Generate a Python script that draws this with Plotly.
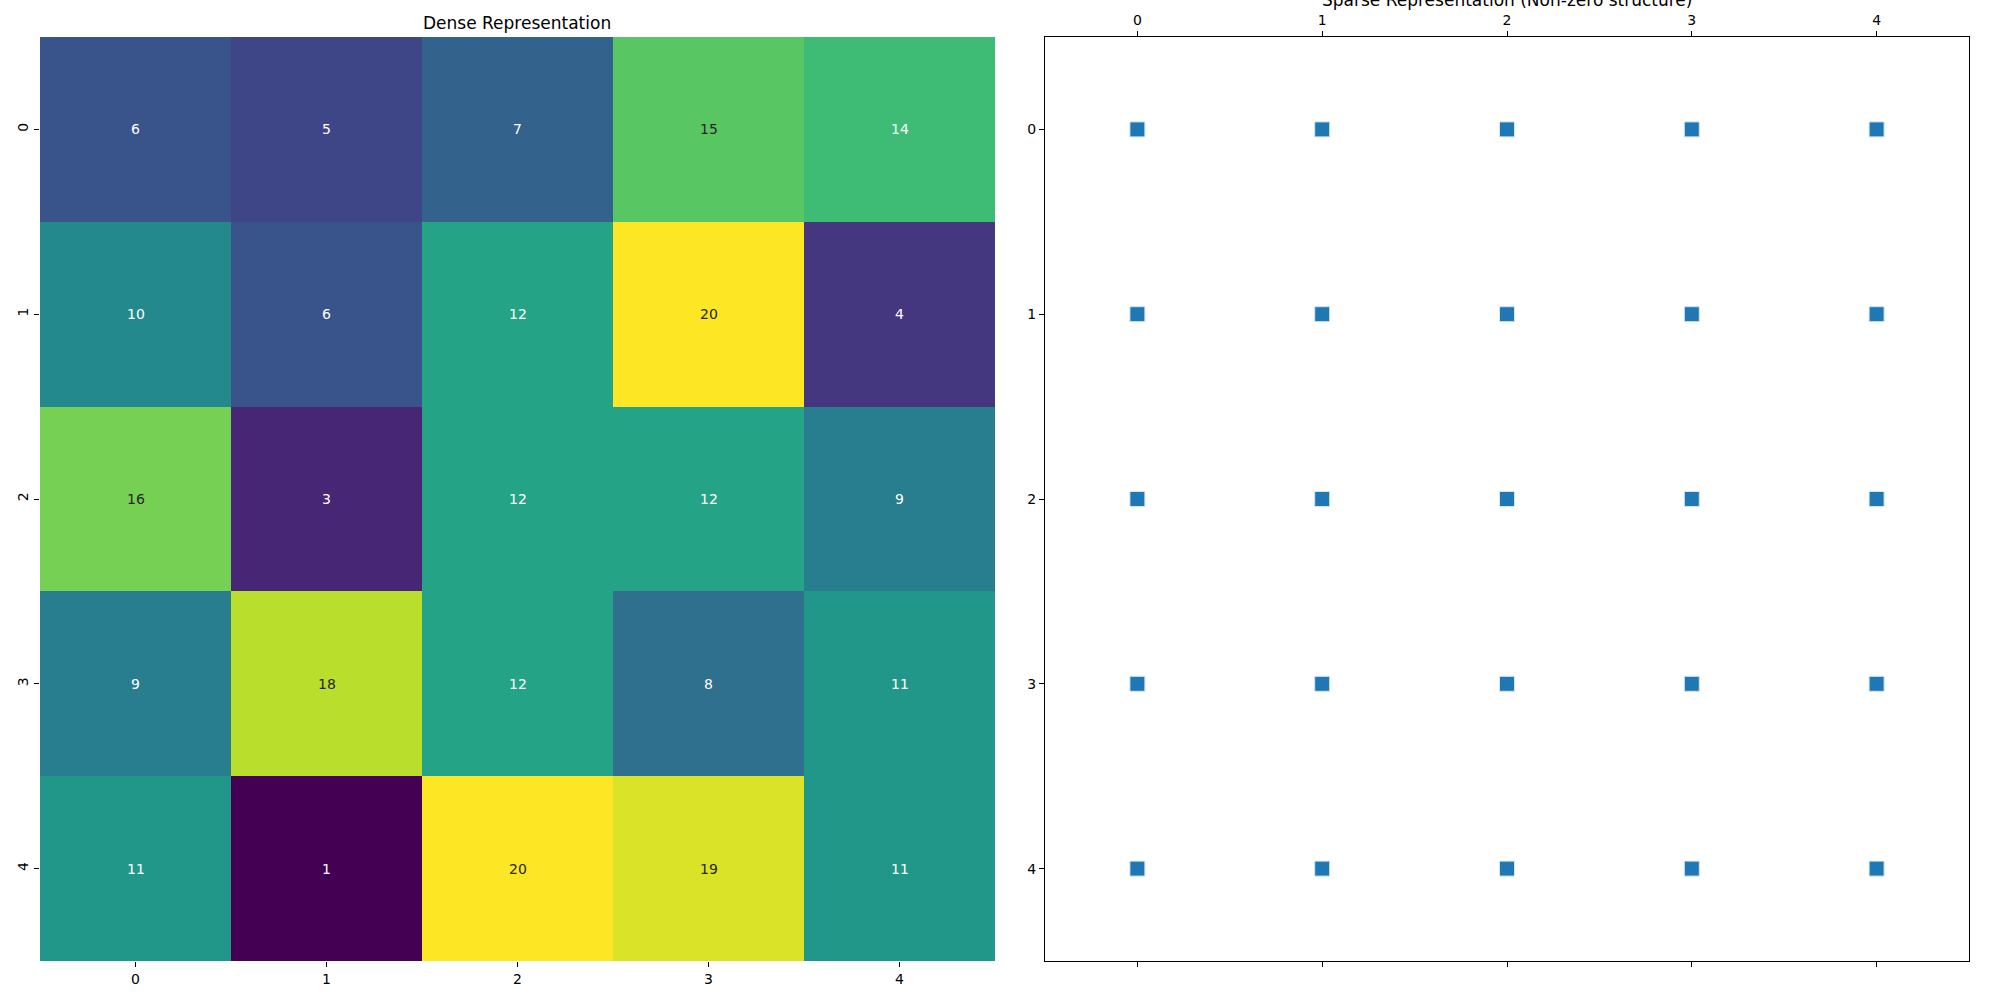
import plotly.graph_objects as go

rows = [0, 1, 2, 3, 4]
cols = [0, 1, 2, 3, 4]
values = [
    [6, 5, 7, 15, 14],
    [10, 6, 12, 20, 4],
    [16, 3, 12, 12, 9],
    [9, 18, 12, 8, 11],
    [11, 1, 20, 19, 11],
]
tick_labels = ["0", "1", "2", "3", "4"]

FONT = "DejaVu Sans"
fig = go.Figure()

fig.add_trace(go.Heatmap(
    z=values, x=cols, y=rows, colorscale="Viridis", zmin=1, zmax=20,
    showscale=False, xaxis="x", yaxis="y", hoverinfo="skip",
))

annotations = []
for i, r in enumerate(rows):
    for j, c in enumerate(cols):
        v = values[i][j]
        color = "#262626" if v >= 15 else "white"
        annotations.append(dict(x=c, y=r, xref="x", yref="y", text=str(v),
                                showarrow=False, font=dict(family=FONT, size=14, color=color)))

sx, sy = [], []
for i, r in enumerate(rows):
    for j, c in enumerate(cols):
        if values[i][j] != 0:
            sx.append(c)
            sy.append(r)
fig.add_trace(go.Scatter(
    x=sx, y=sy, mode="markers", xaxis="x2", yaxis="y2",
    marker=dict(symbol="square", size=15, color="#1f77b4",
                line=dict(color="#d6e6f4", width=1)),
    hoverinfo="skip", showlegend=False,
))

annotations.append(dict(text="Dense Representation", x=517 / 2000, y=1 - 23 / 1000,
                        xref="paper", yref="paper", xanchor="center", yanchor="middle",
                        showarrow=False, font=dict(family=FONT, size=17, color="black")))
annotations.append(dict(text="Sparse Representation (Non-zero structure)", x=1507 / 2000, y=1.0,
                        xref="paper", yref="paper", xanchor="center", yanchor="middle",
                        showarrow=False, font=dict(family=FONT, size=17, color="black")))

tickfont = dict(family=FONT, size=14, color="black")
fig.update_layout(
    width=2000, height=1000, margin=dict(l=0, r=0, t=0, b=0),
    plot_bgcolor="white", paper_bgcolor="white", showlegend=False,
    annotations=annotations,
    xaxis=dict(domain=[40 / 2000, 995 / 2000], range=[-0.5, 4.5], tickvals=cols, ticktext=tick_labels,
               ticks="outside", ticklen=5, tickcolor="black", showgrid=False, zeroline=False,
               showline=False, tickfont=tickfont, fixedrange=True),
    yaxis=dict(domain=[1 - 961 / 1000, 1 - 37 / 1000], range=[4.5, -0.5], tickvals=rows, ticktext=tick_labels,
               ticks="outside", ticklen=5, tickcolor="black", showgrid=False, zeroline=False,
               showline=False, tickangle=-90, tickfont=tickfont, fixedrange=True),
    xaxis2=dict(domain=[1045 / 2000, 1969 / 2000], range=[-0.5, 4.5], tickvals=cols, ticktext=tick_labels,
                side="top", anchor="y2", mirror="ticks", ticks="outside", ticklen=5, tickcolor="black",
                showline=True, linecolor="black", linewidth=1.3, showgrid=False, zeroline=False,
                tickfont=tickfont, fixedrange=True),
    yaxis2=dict(domain=[1 - 961 / 1000, 1 - 37 / 1000], range=[4.5, -0.5], tickvals=rows, ticktext=tick_labels,
                anchor="x2", mirror=True, ticks="outside", ticklen=5, tickcolor="black",
                showline=True, linecolor="black", linewidth=1.3, showgrid=False, zeroline=False,
                tickfont=tickfont, fixedrange=True),
)

fig.write_html("out.html")
